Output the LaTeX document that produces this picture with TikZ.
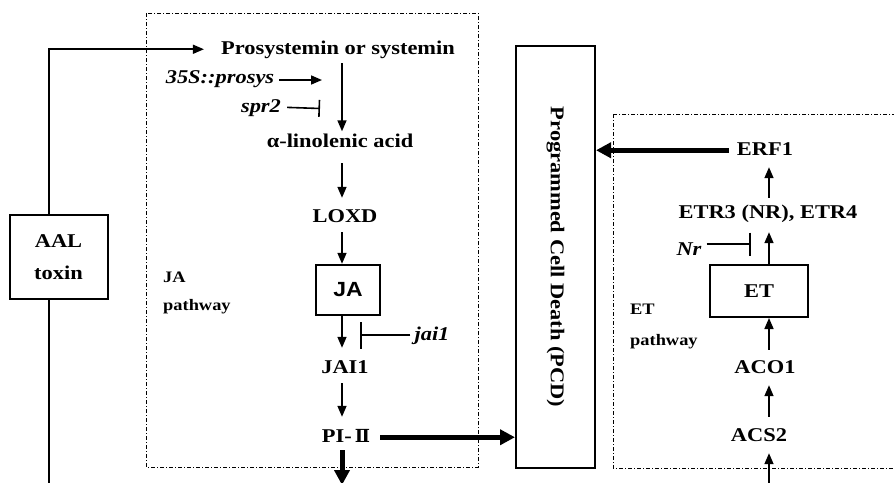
\documentclass[tikz,border=0pt]{standalone}
\usepackage{fontspec}
\setmainfont{Liberation Serif}[FakeStretch=1.15]
\newfontfamily\jafont{Liberation Sans}[FakeStretch=1.12]
\newfontfamily\romfont{DejaVu Serif}
\usetikzlibrary{arrows.meta}
\begin{document}
\begin{tikzpicture}[x=1pt,y=-1pt,
  lbl/.style={font=\fontsize{19.5}{22}\selectfont\bfseries, text height=13.5pt, text depth=4pt, inner sep=2pt, anchor=base},
  ilbl/.style={font=\fontsize{19.5}{22}\selectfont\bfseries\itshape, text height=13.5pt, text depth=4pt, inner sep=2pt, anchor=base},
  slbl/.style={font=\fontsize{16}{18}\selectfont\bfseries, inner sep=0pt, anchor=base west},
  boxed/.style={draw, line width=2pt, inner sep=0pt},
  region/.style={draw, line width=0.9pt, dash pattern=on 4pt off 2pt on 1pt off 2pt},
  arr/.style={line width=1.6pt, -{Triangle[length=11pt,width=9pt]}},
  thick arr/.style={line width=5pt, -{Triangle[length=15pt,width=15pt]}},
  inh/.style={line width=1.6pt, -{Bar[width=#1, line width=1.6pt]}},
]
\useasboundingbox (0,0) rectangle (894,482);
\clip (0,0) rectangle (894,482);
% regions
\draw[region] (146,13) rectangle (478,467);
\draw[region] (613,114) rectangle (900,468);
% boxes
\node[boxed, minimum width=79pt, minimum height=422pt] (pcd) at (555.5,257) {};
\node[rotate=-90, font=\fontsize{19.5}{22}\selectfont\bfseries, inner sep=0pt] at (pcd.center) {Programmed Cell Death (PCD)};
\node[boxed, minimum width=98pt, minimum height=84pt, align=center,
  font=\fontsize{19.5}{32}\selectfont\bfseries] (aal) at (58.5,257) {AAL\\toxin};
\node[boxed, line width=2.4pt, minimum width=64pt, minimum height=50pt,
  font=\fontsize{20.5}{22}\selectfont\jafont\bfseries] (ja) at (348,290) {JA};
\node[boxed, minimum width=98pt, minimum height=52pt,
  font=\fontsize{19.5}{22}\selectfont\bfseries] (et) at (759,291) {ET};
% column coordinates
\coordinate (colJ) at (342,0);
\coordinate (colE) at (769,0);
% JA pathway labels
\node[lbl] (pro) at (338,54) {Prosystemin or systemin};
\node[lbl] (ala) at (340,147) {α-linolenic acid};
\node[lbl] (loxd) at (345,222) {LOXD};
\node[lbl] (jai) at (345,373) {JAI1};
\node[lbl] (pi) at (346,442) {PI-\,{\romfont\fontsize{18}{22}\selectfont\bfseries Ⅱ}};
\node[ilbl] (p35) at (220,83) {35S::prosys};
\node[ilbl] (spr) at (261,112) {spr2};
\node[ilbl] (jaim) at (432,340) {jai1};
\node[slbl] (jal) at (163,282) {JA};
\node[slbl] (jap) at (163,310) {pathway};
% ET pathway labels
\node[lbl] (erf) at (765,155) {ERF1};
\node[lbl] (etr) at (768,218) {ETR3 (NR), ETR4};
\node[lbl] (aco) at (765,373) {ACO1};
\node[lbl] (acs) at (759,441) {ACS2};
\node[ilbl] (nr) at (689,255) {Nr};
\node[slbl] (etl) at (630,314) {ET};
\node[slbl] (etp) at (630,345) {pathway};
% free-end coordinates
\coordinate (t35) at (322,80);
\coordinate (tspr) at (320,108.5);
\coordinate (tjai) at (360,335);
\coordinate (tnr) at (751,244);
\coordinate (aalend) at (49,490);
\coordinate (piend) at (342,485);
\coordinate (acsstart) at (769,490);
% JA connectors
\draw[arr, shorten >=15pt] (aal.north -| 49,0) |- (pro.west);
\draw[line width=1.6pt] (aal.south -| 49,0) -- (aalend);
\draw[arr, shorten <=3pt] (pro.south -| colJ) -- (ala.north -| colJ);
\draw[arr, shorten <=3pt] (p35.east |- t35) -- (t35);
\draw[inh=17pt, shorten <=4pt] (spr.east) -- (tspr);
\draw[arr, shorten <=10pt, shorten >=8.5pt] (ala.south -| colJ) -- (loxd.north -| colJ);
\draw[arr, shorten <=4pt] (loxd.south -| colJ) -- (ja.north -| colJ);
\draw[arr, shorten >=9.5pt] (ja.south -| colJ) -- (jai.north -| colJ);
\draw[inh=27pt, shorten <=2pt] (jaim.west |- tjai) -- (tjai);
\draw[arr, shorten <=4pt, shorten >=9.5pt] (jai.south -| colJ) -- (pi.north -| colJ);
\draw[thick arr, shorten <=8pt] (pi.east) -- (pcd.west |- pi.east);
\draw[thick arr, shorten <=2pt] (pi.south -| colJ) -- (piend);
% ET connectors
\draw[arr, shorten >=6pt] (acsstart) -- (acs.south -| colE);
\draw[arr, shorten <=8.5pt, shorten >=6pt] (acs.north -| colE) -- (aco.south -| colE);
\draw[arr, shorten <=7.5pt] (aco.north -| colE) -- (et.south -| colE);
\draw[arr, shorten >=8pt] (et.north -| colE) -- (etr.south -| colE);
\draw[inh=23pt, shorten <=3pt] (nr.east |- tnr) -- (tnr);
\draw[arr, shorten <=4.5pt, shorten >=6pt] (etr.north -| colE) -- (erf.south -| colE);
\draw[thick arr, shorten <=6pt] (erf.west) -- (pcd.east |- erf.west);
\end{tikzpicture}
\end{document}
